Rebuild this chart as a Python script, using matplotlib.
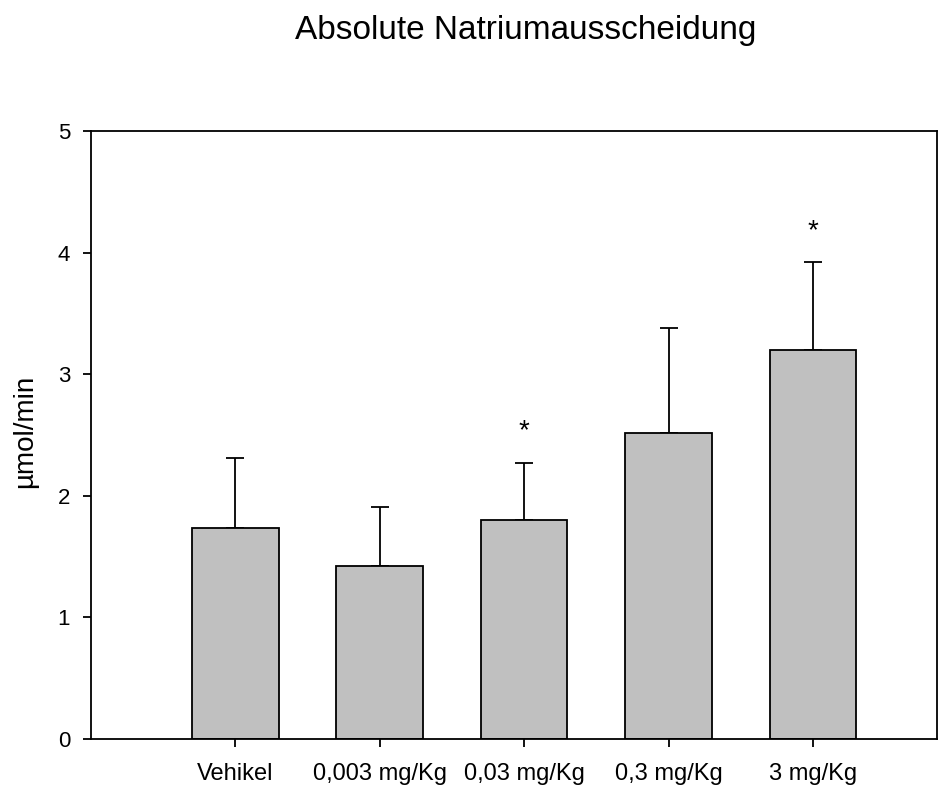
import matplotlib.pyplot as plt
import numpy as np

plt.rcParams['font.family'] = ['Liberation Sans', 'DejaVu Sans']

groups = ['Vehikel', '0,003 mg/Kg', '0,03 mg/Kg', '0,3 mg/Kg', '3 mg/Kg']
means = [1.735, 1.42, 1.80, 2.52, 3.20]
sem = [0.575, 0.49, 0.47, 0.86, 0.72]
signif = ['', '', '*', '', '*']

fig = plt.figure(figsize=(9.49, 7.87), dpi=100)
ax = fig.add_axes([0.0959, 0.061, 0.8915, 0.7726])

x = np.arange(1, len(groups) + 1)
ax.bar(x, means, width=0.6, color='#c0c0c0', edgecolor='black', linewidth=1.3, zorder=2)
ax.errorbar(x, means, yerr=[np.zeros(len(sem)), sem], fmt='none', ecolor='black',
            elinewidth=1.3, capsize=6.5, capthick=1.3, zorder=1)

# significance stars just above the error caps
for xi, m, s, mark in zip(x, means, sem, signif):
    if mark:
        ax.text(xi, m + s + 0.2, mark, ha='center', va='baseline', fontsize=20)

ax.set_xlim(0, 5.86)
ax.set_ylim(0, 5)
ax.set_xticks(x)
ax.set_xticklabels(groups)
ax.set_yticks([0, 1, 2, 3, 4, 5])
ax.tick_params(axis='both', direction='out', length=6, width=1.3)
ax.tick_params(axis='x', pad=11.5, labelsize=17)
ax.tick_params(axis='y', pad=9, labelsize=16)
for sp in ax.spines.values():
    sp.set_linewidth(1.3)

fig.text(25 / 949, 1 - 431 / 787, 'µmol/min', rotation=90, ha='center', va='center', fontsize=20)
fig.text(526 / 949, 1 - 39 / 787, 'Absolute Natriumausscheidung', ha='center', va='baseline', fontsize=24)

fig.savefig('out.png', dpi=100)
